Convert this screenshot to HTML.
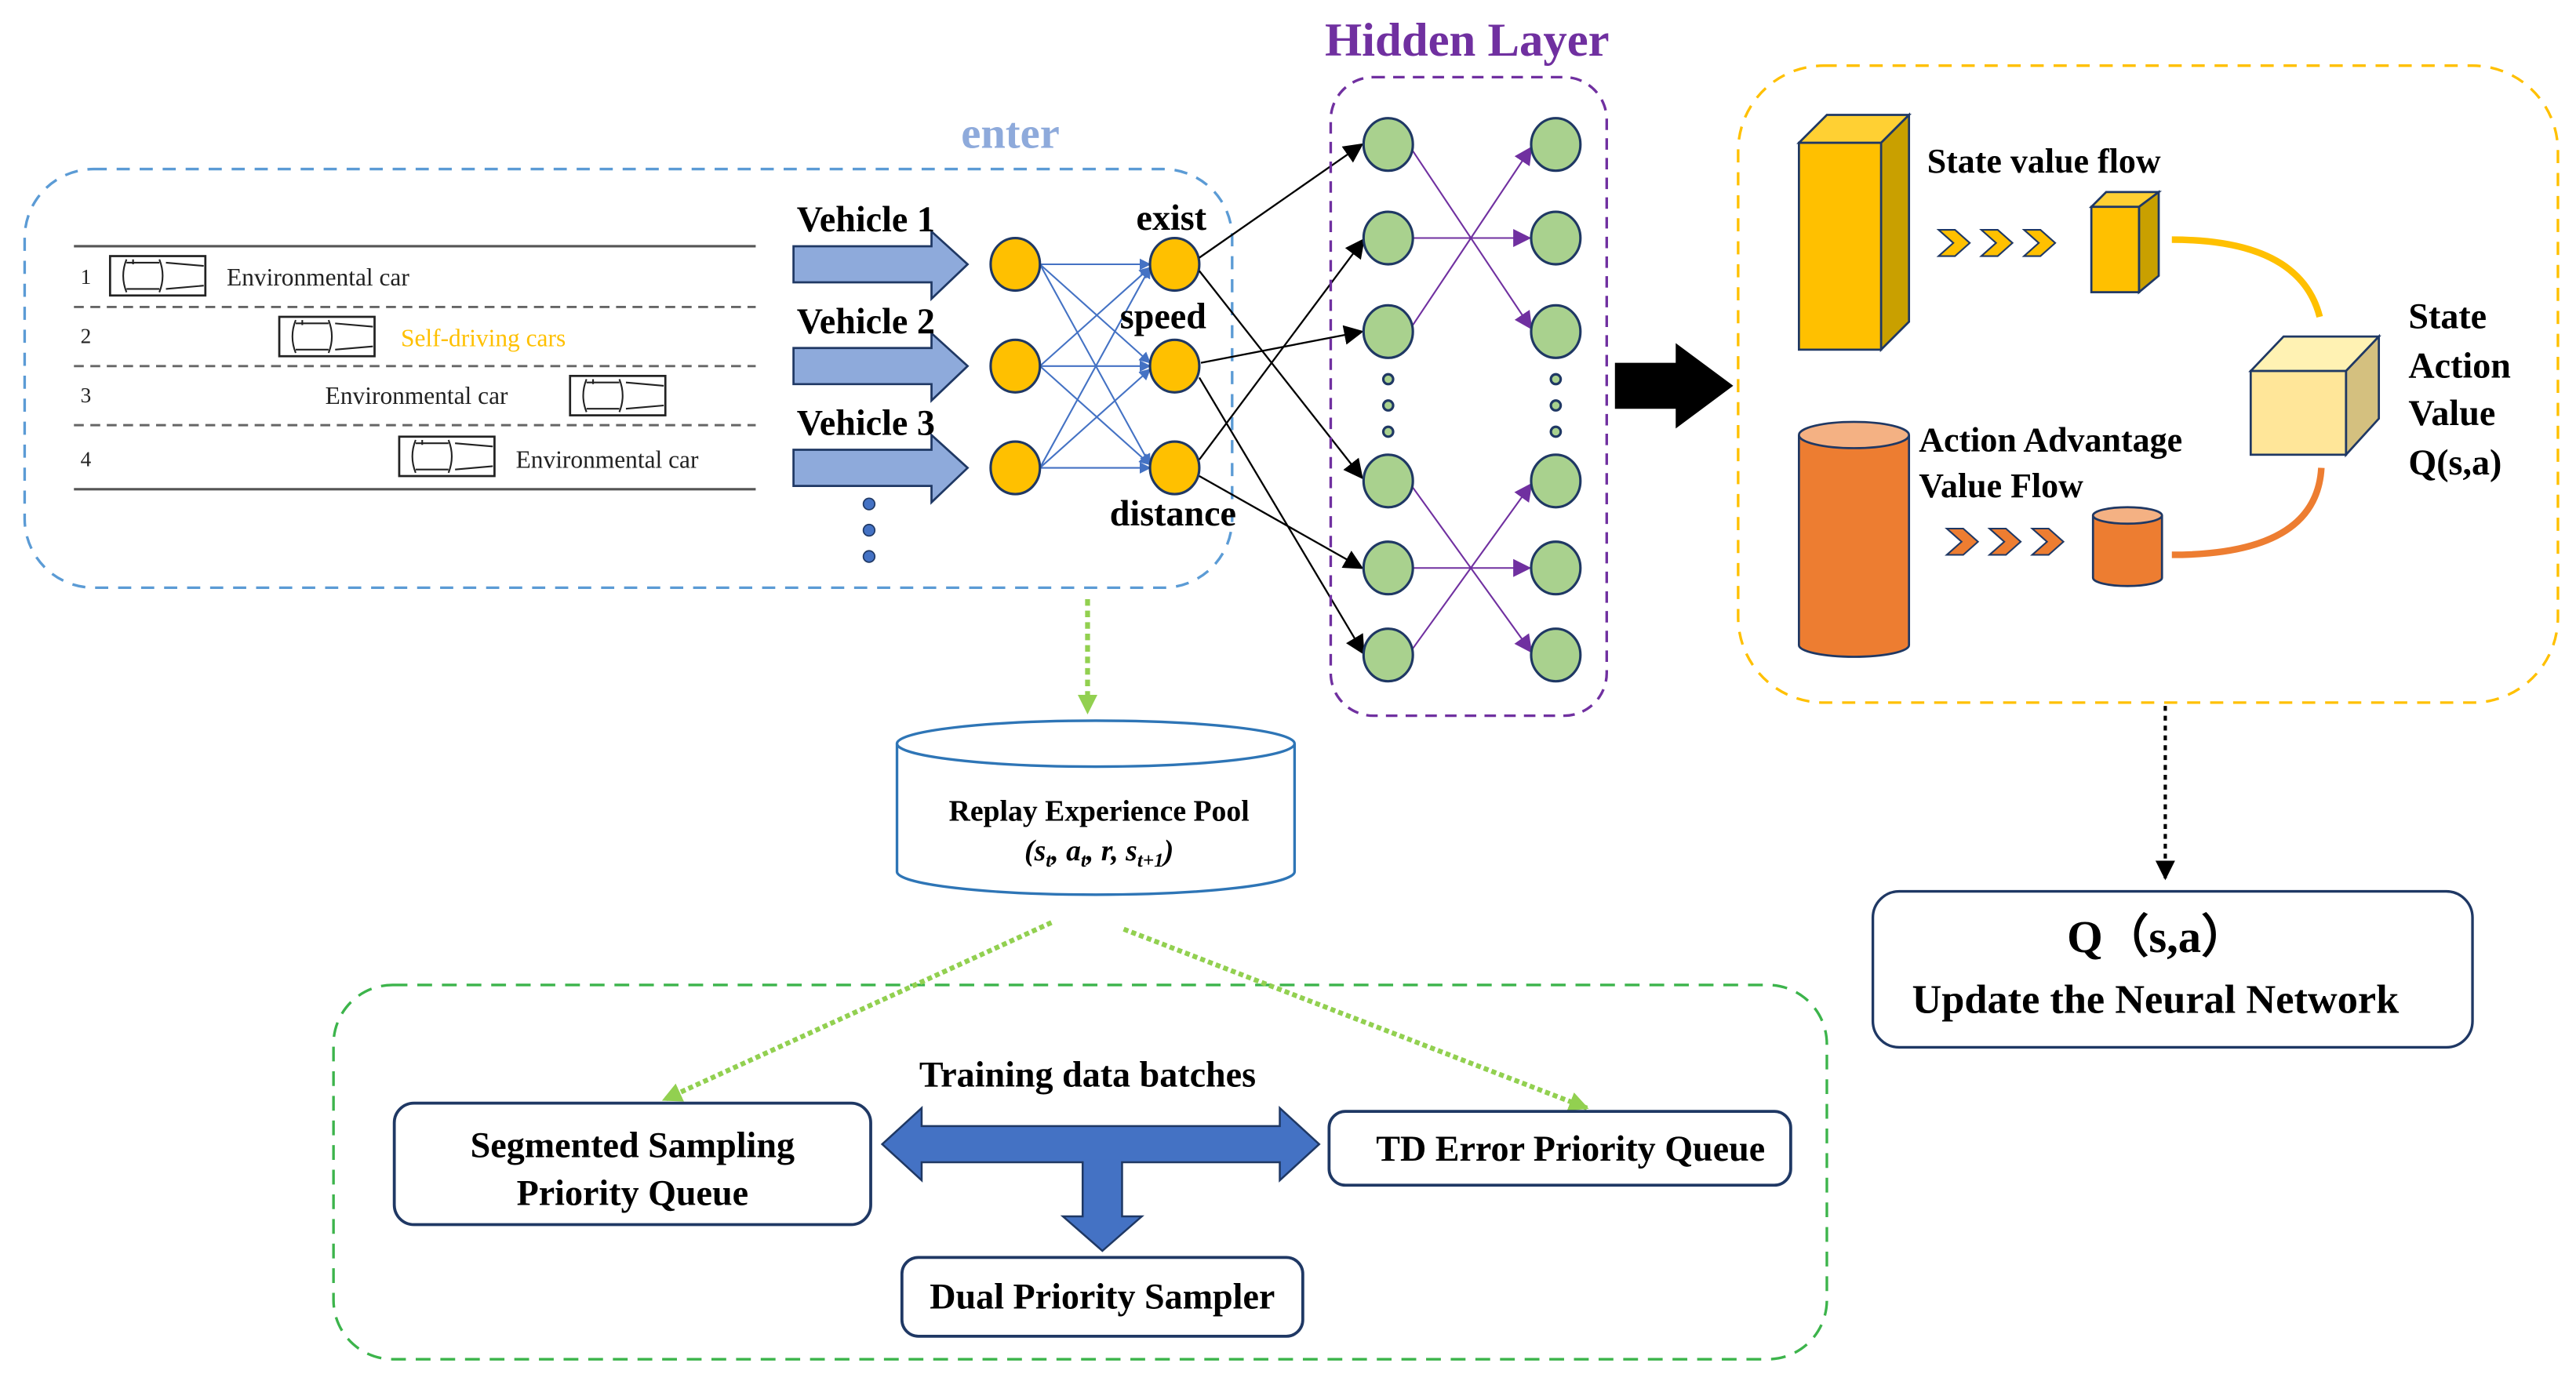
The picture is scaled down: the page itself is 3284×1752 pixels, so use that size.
<!DOCTYPE html>
<html><head><meta charset="utf-8"><style>
html,body{margin:0;padding:0;background:#fff;}
svg{display:block;}
text{font-family:"Liberation Serif",serif;}
</style></head><body>
<svg width="3284" height="1752" viewBox="0 0 1568 837" preserveAspectRatio="none" xmlns="http://www.w3.org/2000/svg">
<defs>
<marker id="ab" viewBox="0 0 10 10" refX="9" refY="5" markerWidth="7" markerHeight="7" orient="auto" markerUnits="userSpaceOnUse"><path d="M0,0L10,5L0,10z" fill="#4472c4"/></marker>
<marker id="ak" viewBox="0 0 10 10" refX="9" refY="5" markerWidth="12" markerHeight="12" orient="auto" markerUnits="userSpaceOnUse"><path d="M0,0L10,5L0,10z" fill="#000"/></marker>
<marker id="ap" viewBox="0 0 10 10" refX="9" refY="5" markerWidth="11" markerHeight="11" orient="auto" markerUnits="userSpaceOnUse"><path d="M0,0L10,5L0,10z" fill="#7030a0"/></marker>
<marker id="ag" viewBox="0 0 10 10" refX="9" refY="5" markerWidth="12" markerHeight="12" orient="auto" markerUnits="userSpaceOnUse"><path d="M0,0L10,5L0,10z" fill="#92d050"/></marker>
<g id="car">
<rect x="0" y="0" width="58" height="24" fill="#fff" stroke="#222" stroke-width="1.3"/>
<path d="M10,2 Q6,12 10,22 M30,2 Q34,12 30,22 M10,4 H30 M10,20 H30 M34,4 L57,6 M34,20 L57,18 M14,2 V5" fill="none" stroke="#222" stroke-width="1"/>
</g>
</defs>

<!-- enter box -->
<text x="615" y="90" font-size="27" font-weight="bold" fill="#8eaadb" text-anchor="middle">enter</text>
<rect x="15" y="103" width="735" height="255" rx="42" fill="none" stroke="#5b9bd5" stroke-width="1.6" stroke-dasharray="8,6"/>

<!-- road -->
<line x1="45" y1="150" x2="460" y2="150" stroke="#555" stroke-width="1.5"/>
<line x1="45" y1="298" x2="460" y2="298" stroke="#555" stroke-width="1.5"/>
<g stroke="#666" stroke-width="1.4" stroke-dasharray="6,4">
<line x1="45" y1="187" x2="460" y2="187"/><line x1="45" y1="223" x2="460" y2="223"/><line x1="45" y1="259" x2="460" y2="259"/>
</g>
<g font-size="13" fill="#222"><text x="49" y="173">1</text><text x="49" y="209">2</text><text x="49" y="245">3</text><text x="49" y="284">4</text></g>
<use href="#car" x="67" y="156"/>
<use href="#car" x="170" y="193"/>
<use href="#car" x="347" y="229"/>
<use href="#car" x="243" y="266"/>
<g font-size="15" fill="#222">
<text x="138" y="174">Environmental car</text>
<text x="244" y="211" fill="#ffc000">Self-driving cars</text>
<text x="198" y="246">Environmental car</text>
<text x="314" y="285">Environmental car</text>
</g>

<!-- vehicle arrows -->
<g fill="#8eaadb" stroke="#1f3864" stroke-width="1.3">
<path d="M483,150 H567 V141 L589,161 L567,182 V172 H483 Z"/>
<path d="M483,212 H567 V203 L589,223 L567,244 V234 H483 Z"/>
<path d="M483,274 H567 V265 L589,285 L567,306 V296 H483 Z"/>
</g>
<g font-size="22" font-weight="bold"><text x="485" y="141">Vehicle 1</text><text x="485" y="203">Vehicle 2</text><text x="485" y="265">Vehicle 3</text></g>
<g fill="#4472c4" stroke="#1f3864" stroke-width="0.8"><circle cx="529" cy="307" r="3.5"/><circle cx="529" cy="323" r="3.5"/><circle cx="529" cy="339" r="3.5"/></g>

<!-- input net -->
<g stroke="#4472c4" stroke-width="1" marker-end="url(#ab)">
<line x1="633" y1="161" x2="700" y2="161"/><line x1="633" y1="161" x2="700" y2="221"/><line x1="633" y1="161" x2="700" y2="283"/>
<line x1="633" y1="223" x2="700" y2="163"/><line x1="633" y1="223" x2="700" y2="223"/><line x1="633" y1="223" x2="700" y2="283"/>
<line x1="633" y1="285" x2="700" y2="163"/><line x1="633" y1="285" x2="700" y2="225"/><line x1="633" y1="285" x2="700" y2="285"/>
</g>
<g fill="#ffc000" stroke="#1f3864" stroke-width="1.5">
<ellipse cx="618" cy="161" rx="15" ry="16"/><ellipse cx="618" cy="223" rx="15" ry="16"/><ellipse cx="618" cy="285" rx="15" ry="16"/>
<ellipse cx="715" cy="161" rx="15" ry="16"/><ellipse cx="715" cy="223" rx="15" ry="16"/><ellipse cx="715" cy="285" rx="15" ry="16"/>
</g>
<g font-size="22" font-weight="bold" text-anchor="middle"><text x="713" y="140">exist</text><text x="708" y="200">speed</text><text x="714" y="320">distance</text></g>

<!-- black connections -->
<g stroke="#000" stroke-width="1.1" marker-end="url(#ak)">
<line x1="730" y1="157" x2="829" y2="88"/>
<line x1="730" y1="165" x2="829" y2="291"/>
<line x1="731" y1="221" x2="829" y2="202"/>
<line x1="730" y1="230" x2="830" y2="398"/>
<line x1="730" y1="280" x2="830" y2="146"/>
<line x1="730" y1="290" x2="829" y2="346"/>
</g>

<!-- hidden layer -->
<text x="893" y="34" font-size="29" font-weight="bold" fill="#7030a0" text-anchor="middle">Hidden Layer</text>
<rect x="810" y="47" width="168" height="389" rx="26" fill="none" stroke="#7030a0" stroke-width="1.6" stroke-dasharray="7,5"/>
<g stroke="#7030a0" stroke-width="1" marker-end="url(#ap)">
<line x1="860" y1="92" x2="932" y2="200"/><line x1="860" y1="145" x2="931" y2="145"/><line x1="860" y1="198" x2="932" y2="90"/>
<line x1="860" y1="297" x2="932" y2="397"/><line x1="860" y1="346" x2="931" y2="346"/><line x1="860" y1="395" x2="932" y2="295"/>
</g>
<g fill="#a9d18e" stroke="#1f3864" stroke-width="1.5">
<ellipse cx="845" cy="88" rx="15" ry="16"/><ellipse cx="845" cy="145" rx="15" ry="16"/><ellipse cx="845" cy="202" rx="15" ry="16"/>
<ellipse cx="845" cy="293" rx="15" ry="16"/><ellipse cx="845" cy="346" rx="15" ry="16"/><ellipse cx="845" cy="399" rx="15" ry="16"/>
<ellipse cx="947" cy="88" rx="15" ry="16"/><ellipse cx="947" cy="145" rx="15" ry="16"/><ellipse cx="947" cy="202" rx="15" ry="16"/>
<ellipse cx="947" cy="293" rx="15" ry="16"/><ellipse cx="947" cy="346" rx="15" ry="16"/><ellipse cx="947" cy="399" rx="15" ry="16"/>
<circle cx="845" cy="231" r="3"/><circle cx="845" cy="247" r="3"/><circle cx="845" cy="263" r="3"/>
<circle cx="947" cy="231" r="3"/><circle cx="947" cy="247" r="3"/><circle cx="947" cy="263" r="3"/>
</g>

<!-- big black arrow -->
<path d="M983,221 H1020 V209 L1055,235 L1020,261 V249 H983 Z" fill="#000"/>

<!-- orange box -->
<rect x="1058" y="40" width="499" height="388" rx="52" fill="none" stroke="#ffc000" stroke-width="1.6" stroke-dasharray="8,6"/>
<!-- tall yellow box -->
<g stroke="#1f3864" stroke-width="1.3">
<path d="M1095,87 L1112,70 H1162 L1145,87 Z" fill="#ffd033"/>
<path d="M1145,87 L1162,70 V196 L1145,213 Z" fill="#c9a000"/>
<rect x="1095" y="87" width="50" height="126" fill="#ffc000"/>
<path d="M1273,126 L1282,117 H1314 L1302,126 Z" fill="#ffd033"/>
<path d="M1302,126 L1314,117 V168 L1302,178 Z" fill="#c9a000"/>
<rect x="1273" y="126" width="29" height="52" fill="#ffc000"/>
<path d="M1370,226 L1390,205 H1448 L1428,226 Z" fill="#fff2b3"/>
<path d="M1428,226 L1448,205 V255 L1428,277 Z" fill="#d4c07f"/>
<rect x="1370" y="226" width="58" height="51" fill="#ffe699"/>
</g>
<text x="1173" y="105" font-size="21" font-weight="bold">State value flow</text>
<g fill="#ffc000" stroke="#1f3864" stroke-width="1">
<path d="M1180,140 H1190 L1199,148 L1190,156 H1180 L1189,148 Z"/>
<path d="M1206,140 H1216 L1225,148 L1216,156 H1206 L1215,148 Z"/>
<path d="M1232,140 H1242 L1251,148 L1242,156 H1232 L1241,148 Z"/>
</g>
<path d="M1322,146 Q1400,146 1412,193" fill="none" stroke="#ffc000" stroke-width="4"/>
<g font-size="22" font-weight="bold"><text x="1466" y="200">State</text><text x="1466" y="230">Action</text><text x="1466" y="259">Value</text><text x="1466" y="289">Q(s,a)</text></g>

<!-- orange cylinders -->
<g stroke="#1f3864" stroke-width="1.3">
<path d="M1095,265 V393 A33,7 0 0 0 1162,393 V265" fill="#ed7d31"/>
<ellipse cx="1128.5" cy="265" rx="33.5" ry="8" fill="#f4b183"/>
<path d="M1274,314 V352 A21,5 0 0 0 1316,352 V314" fill="#ed7d31"/>
<ellipse cx="1295" cy="314" rx="21" ry="5" fill="#f4b183"/>
</g>
<text x="1168" y="275" font-size="21" font-weight="bold">Action Advantage</text>
<text x="1168" y="303" font-size="21" font-weight="bold">Value Flow</text>
<g fill="#ed7d31" stroke="#1f3864" stroke-width="1">
<path d="M1185,322 H1195 L1204,330 L1195,338 H1185 L1194,330 Z"/>
<path d="M1211,322 H1221 L1230,330 L1221,338 H1211 L1220,330 Z"/>
<path d="M1237,322 H1247 L1256,330 L1247,338 H1237 L1246,330 Z"/>
</g>
<path d="M1322,338 Q1410,338 1413,285" fill="none" stroke="#ed7d31" stroke-width="4"/>

<!-- dotted down arrow -->
<line x1="1318" y1="430" x2="1318" y2="535" stroke="#000" stroke-width="2" stroke-dasharray="3,3" marker-end="url(#ak)"/>
<rect x="1140" y="543" width="365" height="95" rx="16" fill="#fff" stroke="#1f3864" stroke-width="1.6"/>
<text x="1313" y="580" font-size="28" font-weight="bold" text-anchor="middle">Q（s,a）</text>
<text x="1312" y="617" font-size="25" font-weight="bold" text-anchor="middle">Update the Neural Network</text>

<!-- replay pool -->
<line x1="662" y1="365" x2="662" y2="434" stroke="#92d050" stroke-width="3" stroke-dasharray="4,3" marker-end="url(#ag)"/>
<path d="M546,453 V531 A121,14 0 0 0 788,531 V453" fill="#fff" stroke="#2e75b6" stroke-width="1.6"/>
<ellipse cx="667" cy="453" rx="121" ry="14" fill="#fff" stroke="#2e75b6" stroke-width="1.6"/>
<text x="669" y="500" font-size="18" font-weight="bold" text-anchor="middle">Replay Experience Pool</text>
<text x="669" y="524" font-size="18" font-weight="bold" font-style="italic" text-anchor="middle">(s<tspan font-size="12" dy="4">t</tspan><tspan dy="-4">, a</tspan><tspan font-size="12" dy="4">t</tspan><tspan dy="-4">, r, s</tspan><tspan font-size="12" dy="4">t+1</tspan><tspan dy="-4">)</tspan></text>

<!-- green box -->
<rect x="203" y="600" width="909" height="228" rx="36" fill="none" stroke="#3cb44b" stroke-width="1.6" stroke-dasharray="9,6"/>
<line x1="640" y1="562" x2="404" y2="670" stroke="#92d050" stroke-width="3" stroke-dasharray="3,2" marker-end="url(#ag)"/>
<line x1="684" y1="566" x2="966" y2="675" stroke="#92d050" stroke-width="3" stroke-dasharray="3,2" marker-end="url(#ag)"/>

<g fill="#fff" stroke="#1f3864" stroke-width="1.8">
<rect x="240" y="672" width="290" height="74" rx="12"/>
<rect x="809" y="677" width="281" height="45" rx="10"/>
<rect x="549" y="766" width="244" height="48" rx="10"/>
</g>
<g font-size="22" font-weight="bold" text-anchor="middle">
<text x="385" y="705">Segmented Sampling</text>
<text x="385" y="734">Priority Queue</text>
<text x="956" y="707">TD Error Priority Queue</text>
<text x="671" y="797">Dual Priority Sampler</text>
<text x="662" y="662">Training data batches</text>
</g>
<path d="M537,697 L561,675 V686 H779 V675 L803,697 L779,719 V708 H683 V741 H695 L671,762 L647,741 H659 V708 H561 V719 Z" fill="#4472c4" stroke="#1f3864" stroke-width="1.2"/>
</svg>
</body></html>
